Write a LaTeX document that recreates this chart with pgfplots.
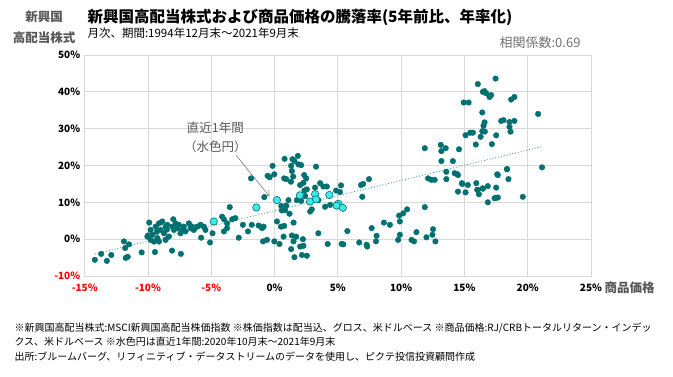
\documentclass[border=0pt]{standalone}
\usepackage{fontspec}
\setmainfont{Noto Sans CJK JP}
\usepackage{pgfplots}
\pgfplotsset{compat=1.18}
\usepackage{pgfplotstable}
\usetikzlibrary{arrows.meta}
\definecolor{teald}{HTML}{007070}
\definecolor{aqua}{HTML}{40E8E8}
\definecolor{trend}{HTML}{4E9FA5}
\definecolor{gtxt}{HTML}{595959}
\definecolor{gridc}{HTML}{D9D9D9}
\pgfplotstableread{
x y
-14.2 -5.6
-13.7 -4.0
-13.25 -5.9
-12.9 -4.3
-11.9 -0.6
-11.5 -1.4
-11.8 -2.4
-11.76 -5.1
-11.6 -4.8
-10.5 -3.6
-9.45 -3.5
-8.1 -3.1
-7.4 -4.0
-9.9 4.5
-10.0 1.0
-9.79 2.5
-9.65 1.2
-9.39 3.4
-9.26 0.3
-9.13 4.3
-9.0 2.5
-8.87 4.8
-8.74 1.6
-8.61 3.4
-8.47 3.9
-8.35 0.7
-8.08 3.4
-7.95 2.5
-7.82 4.3
-7.69 3.0
-7.56 3.9
-7.43 1.6
-7.29 2.5
-7.17 3.4
-6.77 4.3
-6.64 3.0
-6.51 3.4
-6.38 2.5
-6.11 3.4
-5.85 3.9
-5.59 3.4
-5.46 2.5
-7.04 2.1
-9.52 -0.65
-9.79 -0.2
-10.05 0.7
-9.13 -0.65
-8.61 -0.2
-8.0 5.4
-8.9 4.7
-9.3 2.0
-8.5 2.6
-5.8 0.4
-5.1 -0.9
-4.9 1.6
-4.14 6.1
-4.0 5.4
-3.75 4.3
-3.54 8.7
-3.35 5.4
-3.1 5.7
-4.0 2.1
-3.75 3.0
-2.83 0.4
-2.5 3.9
-2.1 2.1
-1.8 3.9
-1.86 16.5
-1.26 3.7
-0.16 19.9
-0.55 17.2
-0.39 16.8
-0.02 17.6
-0.81 11.4
0.79 21.8
1.42 21.7
1.57 21.2
1.31 19.9
1.37 18.5
1.84 22.6
1.89 20.3
2.1 20.1
3.28 19.7
0.76 16.5
0.92 16.3
1.29 15.6
1.47 17.0
2.34 17.4
2.5 16.5
2.28 15.3
2.02 14.7
2.36 13.2
2.55 13.5
3.2 14.0
3.6 15.2
3.86 14.3
4.13 14.3
5.25 14.6
7.46 16.3
6.83 14.7
7.0 15.0
6.93 11.5
5.17 12.8
4.86 13.2
4.39 9.3
3.99 8.8
3.46 10.6
2.94 8.1
2.81 7.5
2.42 11.7
1.76 10.6
2.1 10.4
1.1 10.6
0.92 9.1
0.53 9.0
0.58 7.8
0.84 7.9
1.18 6.9
1.5 4.5
0.19 4.8
0.5 3.4
0.76 3.6
-0.87 3.4
-0.99 3.0
-0.91 -0.6
-0.6 -0.2
-0.02 -0.6
0.39 -1.3
0.71 0.7
1.37 1.0
1.71 0.7
1.5 -0.6
2.24 0.0
2.28 -1.8
2.02 -2.0
1.31 -2.7
1.57 -4.9
2.16 -4.3
2.55 -4.5
3.46 1.6
4.2 -1.3
5.3 -1.3
5.43 -1.4
5.75 2.2
6.69 -0.9
7.27 -1.5
7.32 -2.0
7.67 3.0
8.06 0.9
8.01 -0.6
8.64 4.5
9.11 3.9
9.84 6.4
10.16 7.0
10.47 8.1
11.87 8.7
9.9 4.8
9.9 1.2
9.76 -0.2
10.82 -0.2
11.02 -0.6
11.21 1.9
12.0 0.5
12.52 2.7
12.47 1.2
12.71 -0.6
11.87 24.7
13.13 25.6
13.18 23.9
13.52 24.7
13.18 21.2
14.57 24.4
14.09 21.2
12.13 16.5
12.39 16.1
12.65 16.1
13.57 18.3
13.57 16.3
14.23 17.9
14.49 17.4
14.49 12.9
15.9 25.7
17.17 25.8
14.41 17.7
14.8 15.2
15.27 14.7
15.94 15.2
15.09 12.7
16.01 13.4
16.45 13.8
16.14 12.2
16.85 14.4
17.59 17.6
18.35 19.0
18.48 16.3
17.51 14.0
17.38 11.1
17.64 11.3
16.85 10.0
19.61 11.5
17.46 43.6
16.06 42.1
16.46 40.0
16.59 40.2
16.72 39.6
16.98 38.6
17.11 39.1
18.69 37.9
18.95 38.6
14.94 37.1
15.33 37.1
16.41 34.4
17.9 32.1
18.09 32.3
18.56 31.8
18.95 32.1
18.56 30.5
18.64 29.2
16.59 31.7
16.51 30.8
16.41 29.3
16.61 29.2
15.46 28.9
15.67 28.9
15.09 28.2
16.28 27.8
17.51 28.2
20.82 34.0
21.13 19.5
18.38 19.0
17.64 17.4
16.46 13.7
16.06 13.4
14.83 15.0
17.46 11.2
}\tealdata
\pgfplotstableread{
x y
-4.8 4.8
-1.44 8.6
0.19 10.6
2.0 11.9
3.2 12.2
2.8 10.2
3.28 10.8
4.33 12.0
5.04 9.6
4.9 9.1
5.39 8.5
}\recent
\begin{document}
\begin{tikzpicture}
\path[use as bounding box] (0,0) rectangle (673pt,377pt);
\begin{axis}[
  at={(84.7pt,101pt)}, anchor=south west,
  scale only axis, width=506.3pt, height=221pt,
  xmin=-15, xmax=25, ymin=-10, ymax=50,
  xtick={-15,-10,...,25}, ytick={-10,0,...,50},
  xticklabels={{\color{red}-15\%},{\color{red}-10\%},{\color{red}-5\%},0\%,5\%,10\%,15\%,20\%,25\%},
  yticklabels={{\color{red}-10\%},0\%,10\%,20\%,30\%,40\%,50\%},
  /pgf/number format/assume math mode=true,
  ticklabel style={font=\fontsize{10}{11}\selectfont\bfseries},
  xticklabel style={yshift=-4pt},
  yticklabel style={xshift=-1pt},
  grid=major, grid style={draw=gridc, line width=0.8pt},
  axis line style={draw=gridc, line width=0.8pt},
  major tick length=0pt,
]
\addplot[trend, dotted, line width=0.9pt] coordinates {(-14.2,-4.0) (21.1,25.1)};
\addplot[only marks, mark=*, mark size=2.8pt, draw=teald, fill=teald] table[x=x,y=y] {\tealdata};
\addplot[only marks, mark=*, mark size=3.7pt, mark options={draw=teald, fill=aqua, line width=0.6pt}] table[x=x,y=y] {\recent};
\draw[gtxt!80, line width=0.6pt, -{Straight Barb[length=5pt,width=7pt]}] (axis cs:-3.04,22.8) -- (axis cs:-0.4,11.6);
\node[gtxt, align=center, font=\fontsize{12.5}{19}\selectfont] at (axis cs:-4.67,27.6) {直近1年間\\（水色円）};
\end{axis}
\node[anchor=west, font=\fontsize{15.5}{18}\selectfont\bfseries] at (84pt,377pt-17pt) {新興国高配当株式および商品価格の騰落率(5年前比、年率化)};
\node[anchor=west, font=\fontsize{11.5}{13}\selectfont] at (84pt,377pt-33pt) {月次、期間:1994年12月末～2021年9月末};
\node[anchor=east, gtxt!85, font=\fontsize{13}{15}\selectfont] at (584pt,377pt-43pt) {相関係数:0.69};
\node[gtxt, align=center, font=\fontsize{12.5}{21}\selectfont\bfseries] at (44pt,377pt-27pt) {新興国\\高配当株式};
\node[anchor=west, gtxt, font=\fontsize{12.5}{15}\selectfont\bfseries] at (601pt,377pt-288pt) {商品価格};
\node[anchor=west, font=\fontsize{10}{11}\selectfont] at (11pt,377pt-328pt) {※新興国高配当株式:MSCI新興国高配当株価指数 ※株価指数は配当込、グロス、米ドルベース ※商品価格:RJ/CRBトータルリターン・インデッ};
\node[anchor=west, font=\fontsize{10}{11}\selectfont] at (11pt,377pt-342pt) {クス、米ドルベース ※水色円は直近1年間:2020年10月末～2021年9月末};
\node[anchor=west, font=\fontsize{10}{11}\selectfont] at (11pt,377pt-357pt) {出所:ブルームバーグ、リフィニティブ・データストリームのデータを使用し、ピクテ投信投資顧問作成};
\end{tikzpicture}
\end{document}
